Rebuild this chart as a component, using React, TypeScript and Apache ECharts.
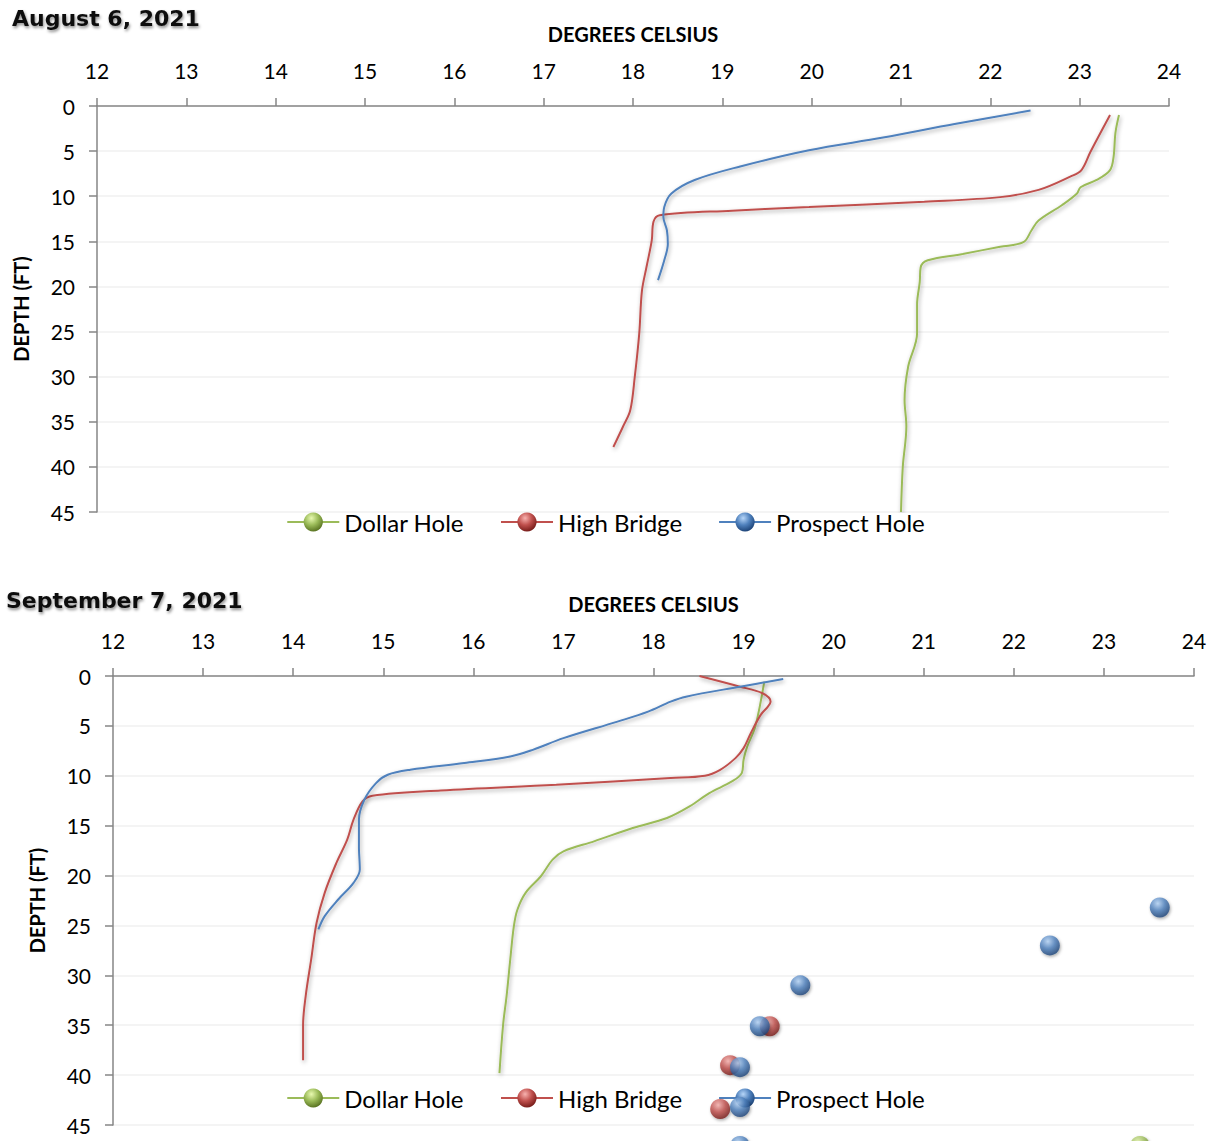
import React, { useEffect, useRef } from "react";
import * as echarts from "echarts";

// ---------- DATA ----------
const titles = ["August 6, 2021", "September 7, 2021"];
const xAxisName = "DEGREES CELSIUS";
const yAxisName = "DEPTH (FT)";
const seriesNames = ["Dollar Hole", "High Bridge", "Prospect Hole"];

// [temperature °C, depth ft]
const augDollarHole = [
  [23.44, 1.0], [23.4, 3.0], [23.38, 5.6], [23.34, 7.1], [23.19, 8.2], [23.01, 9.0], [22.97, 9.7],
  [22.8, 11.0], [22.54, 12.7], [22.46, 13.8], [22.37, 15.1], [22.11, 15.6], [21.69, 16.4],
  [21.3, 17.1], [21.22, 17.9], [21.21, 19.5], [21.18, 22], [21.18, 25.2], [21.08, 28.9],
  [21.04, 32.6], [21.06, 35.5], [21.02, 40], [21.0, 45],
];
const augHighBridge = [
  [23.34, 1.0], [23.12, 5.1], [23.02, 7.1], [22.9, 7.8], [22.54, 9.3], [22.11, 10.1], [21.26, 10.6],
  [19.97, 11.2], [19.11, 11.6], [18.3, 12.1], [18.23, 12.8], [18.21, 14.9], [18.15, 17.9],
  [18.1, 20.5], [18.07, 25.2], [18.02, 30], [17.97, 33.7], [17.89, 35.5], [17.78, 37.8],
];
const augProspectHole = [
  [22.45, 0.5], [21.6, 2], [20.8, 3.5], [19.97, 4.9], [19.2, 6.7], [18.69, 8.2], [18.43, 9.7],
  [18.35, 11.2], [18.34, 12.3], [18.38, 13.8], [18.39, 15.3], [18.35, 17.1], [18.28, 19.3],
];

const sepDollarHole = [
  [19.23, 0.57], [19.13, 5.07], [19.04, 7.07], [19.0, 8.4], [18.98, 9.73], [18.87, 10.57],
  [18.62, 11.73], [18.4, 13.07], [18.15, 14.23], [17.77, 15.23], [17.34, 16.57], [17.0, 17.57],
  [16.88, 18.4], [16.75, 20.07], [16.58, 21.73], [16.49, 23.4], [16.45, 25.07], [16.41, 28.4],
  [16.37, 32], [16.33, 35], [16.29, 39.8],
];
const sepHighBridge = [
  [18.51, 0], [18.96, 1.07], [19.21, 1.73], [19.3, 2.57], [19.27, 3.07], [19.19, 3.9],
  [19.08, 5.73], [19.0, 7.23], [18.91, 8.23], [18.74, 9.4], [18.57, 10.0], [18.19, 10.23],
  [16.92, 10.9], [15.64, 11.47], [14.88, 12.0], [14.77, 12.57], [14.67, 14.4], [14.6, 16.4],
  [14.48, 18.73], [14.35, 21.73], [14.26, 24.73], [14.2, 28.4], [14.14, 32], [14.11, 35],
  [14.11, 38.5],
];
const sepProspectHole = [
  [19.44, 0.3], [18.96, 1.07], [18.36, 2.07], [18.19, 2.57], [17.94, 3.57], [17.6, 4.57],
  [17.0, 6.23], [16.66, 7.4], [16.41, 8.07], [15.9, 8.73], [15.3, 9.4], [15.05, 9.9],
  [14.92, 10.73], [14.79, 12.4], [14.73, 14.4], [14.73, 17.07], [14.74, 19.4], [14.67, 20.73],
  [14.5, 22.4], [14.35, 24.07], [14.28, 25.4],
];

// stray marker spheres in the September panel
const sepStrayGreen = [[23.4, 47.1]];
const sepStrayRed = [[19.29, 35.1], [18.85, 39.0], [18.74, 43.4]];
const sepStrayBlue = [
  [23.62, 23.2], [22.4, 27.0], [19.63, 31.0], [19.18, 35.1], [18.96, 39.2], [18.96, 43.2], [18.96, 47.1],
];

const xTickMin = 12;
const xTickMax = 24;
const yTickMax = 45;

// ---------- STYLE ----------
const colors = ["#9BBB59", "#C0504D", "#4F81BD"];
const sphereStops = [
  ["#e8f9b0", "#9BBB59", "#56701f"],
  ["#f8b2af", "#C0504D", "#741a17"],
  ["#b6d5f8", "#4F81BD", "#1b4175"],
];
const sphere = (i: number) =>
  new echarts.graphic.RadialGradient(0.4, 0.3, 0.72, [
    { offset: 0, color: sphereStops[i][0] },
    { offset: 0.5, color: sphereStops[i][1] },
    { offset: 1, color: sphereStops[i][2] },
  ]);

const FONT = "Lato, 'Open Sans', sans-serif";
const axisGray = "#868686";

export default function App() {
  const ref = useRef<HTMLDivElement>(null);
  useEffect(() => {
    if (!ref.current) return;
    const chart = echarts.init(ref.current, null, { renderer: "svg" });

    const grids = [
      { left: 97, top: 106, width: 1072, height: 406 },
      { left: 113, top: 676, width: 1081, height: 449 },
    ];

    const mkX = (gi: number) => ({
      type: "value",
      gridIndex: gi,
      position: "top",
      min: xTickMin,
      max: xTickMax,
      interval: 1,
      name: xAxisName,
      nameLocation: "middle",
      nameGap: 62,
      nameTextStyle: { fontFamily: FONT, fontWeight: "bold", fontSize: 20, color: "#000" },
      axisLine: { show: true, lineStyle: { color: axisGray, width: 1.5 } },
      axisTick: { show: true, length: 8, lineStyle: { color: axisGray, width: 1.5 } },
      axisLabel: { fontFamily: FONT, fontSize: 21, color: "#000", margin: 25 },
      splitLine: { show: false },
    });
    const mkY = (gi: number) => ({
      type: "value",
      gridIndex: gi,
      inverse: true,
      min: 0,
      max: yTickMax,
      interval: 5,
      name: yAxisName,
      nameLocation: "middle",
      nameGap: 66,
      nameTextStyle: { fontFamily: FONT, fontWeight: "bold", fontSize: 20, color: "#000" },
      axisLine: { show: true, lineStyle: { color: axisGray, width: 1.5 } },
      axisTick: { show: true, length: 8, lineStyle: { color: axisGray, width: 1.5 } },
      axisLabel: { fontFamily: FONT, fontSize: 21, color: "#000", margin: 22 },
      splitLine: { show: true, lineStyle: { color: "#f0f0f0", width: 1.5 } },
    });

    const lineSeries = (name: string, i: number, data: number[][], gi: number) => ({
      type: "line",
      name,
      xAxisIndex: gi,
      yAxisIndex: gi,
      data,
      smooth: 0.35,
      symbol: "circle",
      showSymbol: false,
      itemStyle: { color: sphere(i) },
      lineStyle: {
        color: colors[i],
        width: 2,
        shadowColor: "rgba(0,0,0,0.35)",
        shadowBlur: 4,
        shadowOffsetX: 1,
        shadowOffsetY: 2,
      },
      z: 3,
    });

    const stray = (name: string, i: number, data: number[][]) => ({
      type: "scatter",
      name,
      xAxisIndex: 1,
      yAxisIndex: 1,
      data,
      symbol: "circle",
      symbolSize: 20,
      clip: false,
      itemStyle: {
        color: sphere(i),
        shadowColor: "rgba(0,0,0,0.4)",
        shadowBlur: 3,
        shadowOffsetX: 1,
        shadowOffsetY: 1.5,
      },
      z: 5,
    });

    const mkLegend = (top: number) => ({
      top,
      left: "center",
      orient: "horizontal",
      itemWidth: 52,
      itemHeight: 24,
      itemGap: 36,
      textStyle: { fontFamily: FONT, fontSize: 24, color: "#000" },
      data: seriesNames.map((n, i) => ({
        name: n,
        itemStyle: { color: sphere(i) },
        lineStyle: { color: colors[i], width: 2 },
      })),
      selectedMode: false,
    });

    const titleStyle = {
      fontFamily: "'DejaVu Sans', sans-serif",
      fontWeight: "bold",
      fontSize: 22,
      color: "#111",
      textShadowColor: "rgba(0,0,0,0.45)",
      textShadowBlur: 3,
      textShadowOffsetX: 1,
      textShadowOffsetY: 2,
    };

    chart.setOption({
      animation: false,
      backgroundColor: "#fff",
      title: [
        { text: titles[0], left: 12, top: 7, padding: 0, textStyle: titleStyle },
        { text: titles[1], left: 6, top: 589, padding: 0, textStyle: titleStyle },
      ],
      grid: grids,
      xAxis: [mkX(0), mkX(1)],
      yAxis: [mkY(0), mkY(1)],
      legend: [mkLegend(505), mkLegend(1081)],
      series: [
        lineSeries(seriesNames[0], 0, augDollarHole, 0),
        lineSeries(seriesNames[1], 1, augHighBridge, 0),
        lineSeries(seriesNames[2], 2, augProspectHole, 0),
        lineSeries(seriesNames[0], 0, sepDollarHole, 1),
        lineSeries(seriesNames[1], 1, sepHighBridge, 1),
        lineSeries(seriesNames[2], 2, sepProspectHole, 1),
        stray("Dollar Hole marker", 0, sepStrayGreen),
        stray("High Bridge marker", 1, sepStrayRed),
        stray("Prospect Hole marker", 2, sepStrayBlue),
      ],
    });
    return () => chart.dispose();
  }, []);
  return (
    <div
      ref={ref}
      style={{ position: "fixed", left: 0, top: 0, width: 1211, height: 1141, overflow: "hidden" }}
    />
  );
}
